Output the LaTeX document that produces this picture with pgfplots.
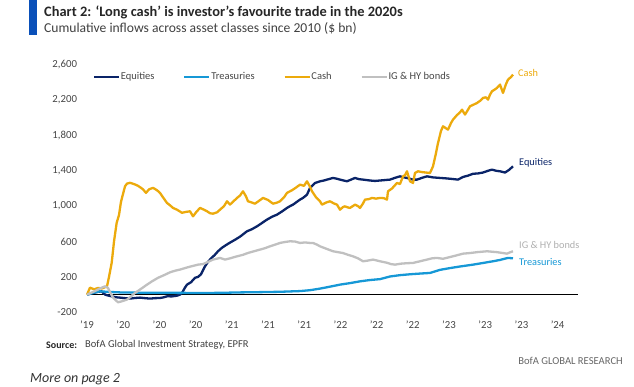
\documentclass[border=0pt]{standalone}
\usepackage{fontspec}
\setmainfont{Carlito}
\usepackage{pgfplots}
\pgfplotsset{compat=1.18}
\definecolor{eqc}{RGB}{10,36,104}
\definecolor{trc}{RGB}{22,152,214}
\definecolor{cac}{RGB}{236,170,12}
\definecolor{igc}{RGB}{192,192,192}
\definecolor{igl}{RGB}{175,175,175}
\definecolor{barc}{RGB}{10,80,185}
\definecolor{tickc}{RGB}{70,70,70}
\begin{document}
\begin{tikzpicture}[x=1pt,y=1pt]
\path[use as bounding box] (0,0) rectangle (634,386);
\fill[barc] (29,386) rectangle (37,350.5);
\node[anchor=base west, inner sep=0pt, text=black!85, font=\bfseries\fontsize{14.4}{16}\selectfont] at (44,369) {Chart 2: ‘Long cash’ is investor’s favourite trade in the 2020s};
\node[anchor=base west, inner sep=0pt, text=black!75, font=\fontsize{13.6}{15}\selectfont] at (44,353.5) {Cumulative inflows across asset classes since 2010 (\$ bn)};
\begin{axis}[
  at={(87,83.3)}, anchor=south west, scale only axis,
  width=491pt, height=247.7pt,
  xmin=87, xmax=578, ymin=-200, ymax=2600,
  axis line style={draw=none}, major tick style={draw=none}, minor tick style={draw=none},
  clip=false,
  xtick={87,123.2,159.4,195.6,231.8,268,304.2,340.4,376.6,412.8,449,485.2,521.4,557.6},
  xticklabels={’19,’20,’20,’20,’21,’21,’21,’22,’22,’22,’23,’23,’23,’24},
  ytick={-200,200,600,1000,1400,1800,2200,2600},
  yticklabel style={xshift=-6.4pt,/pgf/number format/.cd,1000 sep={,},assume math mode=true},
  xticklabel style={yshift=-5pt},
  ticklabel style={font=\fontsize{10.8}{12}\selectfont, text=tickc},
  legend columns=4,
  legend style={at={(0.0122,0.9516)}, anchor=west, draw=none, fill=none, inner sep=0pt,
    font=\fontsize{10.5}{12}\selectfont, text=tickc,
    nodes={inner sep=1pt},
    /tikz/every even column/.append style={column sep=28pt}},
  legend image code/.code={\draw[#1,line width=1.8pt] (0pt,0pt) -- (25pt,0pt);},
  every axis plot/.append style={line width=2.3pt, line join=round},
]
\addplot[black, line width=0.7pt, forget plot] coordinates {(87,0)(578,0)};
\addplot[eqc] coordinates {
(87,0)(92,15)(97,30)(101.7,37)(105,0)(108,-10)(111.7,-19)(116,-30)(120,-34)(125,-40)(130,-45)(135,-38)(140,-34)(145,-40)(150,-45)(155,-40)(160,-38)(164,-30)(167,-19)(172,-20)(177,-12)(180,0)(182,19)(185,80)(187,113)(191,140)(195,190)(198,200)(201,230)(205,320)(208,370)(210,396)(215,452)(218,490)(222,530)(226,560)(230,588)(235,620)(240,655)(244,690)(247,716)(252,740)(257,772)(262,810)(267,848)(272,880)(277,904)(282,940)(287,980)(290,1000)(293,1017)(297,1050)(300,1074)(303,1093)(307,1130)(310,1206)(313,1240)(315,1262)(320,1281)(324,1290)(327,1300)(333,1319)(337,1310)(340,1300)(347,1281)(351,1300)(355,1319)(359,1305)(363,1300)(370,1290)(375,1285)(380,1290)(385,1295)(390,1300)(395,1320)(400,1337)(404,1325)(407,1319)(413,1300)(417,1300)(422,1320)(427,1337)(433,1325)(440,1319)(445,1315)(450,1310)(458,1300)(463,1330)(468,1345)(473,1366)(478,1370)(483,1380)(488,1400)(492,1413)(496,1400)(500,1394)(505,1380)(509,1410)(513,1450)};
\addlegendentry{Equities}
\addplot[trc] coordinates {
(87,0)(95,25)(100,37)(110,30)(120,25)(140,22)(160,20)(180,20)(200,18)(220,20)(240,25)(260,28)(280,32)(300,40)(310,50)(320,68)(330,90)(340,113)(350,130)(360,150)(370,165)(380,175)(390,205)(400,220)(410,230)(420,238)(430,245)(440,280)(450,300)(460,318)(473,339)(480,352)(493,377)(500,392)(508,415)(513,410)};
\addlegendentry{Treasuries}
\addplot[cac] coordinates {
(87,0)(90,79)(94,60)(98,75)(102,70)(107,94)(109,200)(111.7,360)(114,600)(116.7,813)(119,900)(121,1050)(125,1224)(127,1255)(130,1264)(134,1250)(138,1230)(140,1215)(143,1190)(146,1150)(149,1190)(153,1207)(157,1180)(160,1150)(163,1100)(167,1036)(170,1010)(173,980)(177,960)(182,925)(186,935)(190,942)(193,885)(196,930)(200,980)(204,960)(207,942)(210,920)(213,915)(217,930)(220,960)(224,1000)(227,1055)(230,1018)(234,1060)(237,1093)(240,1120)(243,1168)(246,1110)(248,1055)(252,1040)(255,1028)(259,1060)(263,1093)(268,1070)(273,1028)(277,1040)(280,1055)(284,1100)(287,1150)(292,1180)(296,1210)(300,1243)(304,1230)(307,1281)(310,1220)(312,1168)(316,1100)(320,1055)(322,1017)(326,1040)(330,1055)(334,1030)(337,1017)(340,960)(343,990)(345,998)(348,985)(350,980)(355,1017)(358,1000)(360,980)(363,1030)(365,1074)(369,1080)(372,1093)(376,1085)(380,1093)(384,1090)(387,1074)(388,1168)(392,1200)(397,1262)(400,1250)(403,1337)(405,1350)(407,1394)(410,1281)(413,1262)(415,1375)(418,1394)(422,1385)(426,1380)(430,1375)(433,1450)(436,1600)(438,1714)(441,1850)(443,1903)(446,1880)(448,1865)(451,1940)(453,1978)(457,2030)(460,2060)(462,2091)(465,2035)(468,2090)(470,2129)(474,2150)(477,2166)(480,2190)(483,2224)(486,2230)(488,2204)(490,2260)(492,2299)(495,2320)(497,2337)(500,2374)(503,2280)(506,2380)(508,2430)(511,2460)(513,2487)};
\addlegendentry{Cash}
\addplot[igc] coordinates {
(87,0)(95,40)(100,70)(105,94)(108,75)(110,30)(113,-34)(118,-87)(122,-75)(127,-56)(131,-20)(135,19)(141,65)(147,113)(152,150)(158,190)(164,220)(170,252)(175,270)(180,283)(185,300)(190,316)(195,330)(198,339)(203,345)(208,370)(213,396)(220,415)(225,396)(230,410)(237,433)(243,450)(248,471)(254,490)(260,509)(265,525)(270,546)(275,565)(280,584)(285,595)(290,603)(295,600)(300,584)(305,590)(310,584)(313,584)(317,565)(320,546)(326,520)(333,490)(338,480)(343,470)(348,450)(353,433)(358,410)(363,377)(368,385)(373,396)(380,377)(387,360)(391,345)(395,339)(401,350)(407,355)(413,358)(420,377)(427,396)(432,410)(437,415)(443,405)(450,425)(457,445)(463,463)(470,470)(477,480)(487,490)(497,480)(503,470)(507,463)(510,478)(513,490)};
\addlegendentry{IG \& HY bonds}
\node[anchor=west, inner sep=0pt, text=cac, font=\fontsize{10.3}{12}\selectfont] at (axis cs:518,2506) {Cash};
\node[anchor=west, inner sep=0pt, text=eqc, font=\fontsize{10.3}{12}\selectfont] at (axis cs:519,1489) {Equities};
\node[anchor=west, inner sep=0pt, text=igl, font=\fontsize{10.3}{12}\selectfont] at (axis cs:519,565) {IG \& HY bonds};
\node[anchor=west, inner sep=0pt, text=trc, font=\fontsize{10.3}{12}\selectfont] at (axis cs:519,370) {Treasuries};
\end{axis}
\node[anchor=west, inner sep=0pt, font=\bfseries\fontsize{10}{11}\selectfont, text=black!85] at (46,41) {Source:};
\node[anchor=west, inner sep=0pt, font=\fontsize{10.5}{11}\selectfont, text=black!75] at (85,41) {BofA Global Investment Strategy, EPFR};
\node[anchor=east, inner sep=0pt, font=\fontsize{10.6}{11}\selectfont, text=black!60] at (623,25) {BofA GLOBAL RESEARCH};
\node[anchor=base west, inner sep=0pt, font=\itshape\fontsize{14}{16}\selectfont, text=black!80] at (30,4) {More on page 2};
\end{tikzpicture}
\end{document}
